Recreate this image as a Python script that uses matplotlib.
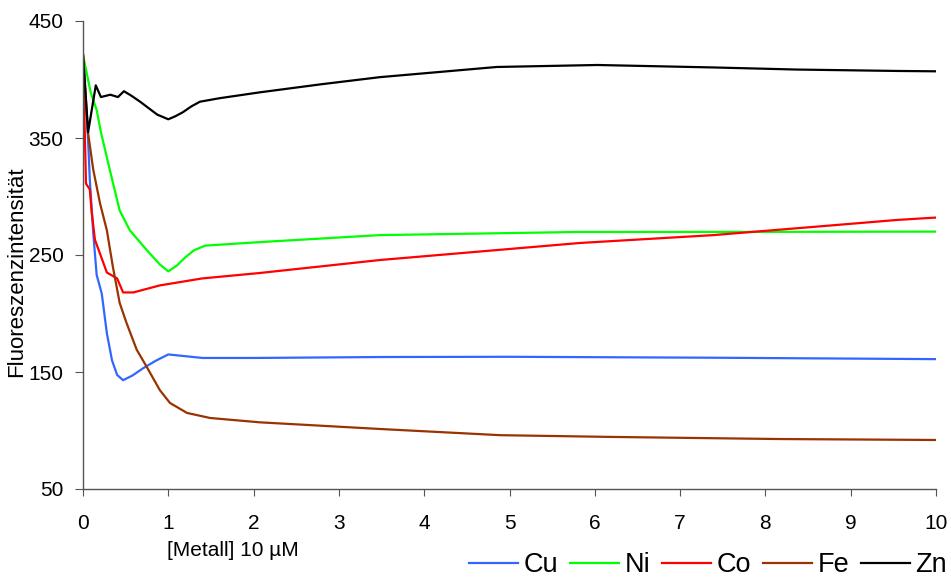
import matplotlib.pyplot as plt

plt.rcParams['font.family'] = ['Liberation Sans', 'DejaVu Sans']

cu_x = [0, 0.06, 0.08, 0.12, 0.16, 0.22, 0.28, 0.34, 0.40, 0.47, 0.58, 0.70, 0.85, 1.0, 1.2, 1.4, 2.0, 3.5, 5.0, 7.4, 10]
cu_y = [421, 348, 314, 269, 233, 217, 183, 160, 147.5, 143, 147, 153, 159.5, 165, 163.5, 162, 162, 162.8, 163, 162.2, 161]

ni_x = [0, 0.09, 0.16, 0.21, 0.32, 0.43, 0.55, 0.75, 0.9, 1.0, 1.1, 1.2, 1.3, 1.43, 2.07, 3.48, 5.83, 7.4, 10]
ni_y = [421, 389, 374, 355, 321, 288, 271, 254, 242, 236, 241, 248, 254, 258, 261, 267, 269.7, 269.7, 270]

co_x = [0, 0.035, 0.08, 0.10, 0.14, 0.28, 0.40, 0.47, 0.59, 0.9, 1.4, 2.07, 3.48, 5.83, 7.39, 8.56, 9.55, 10]
co_y = [421, 311, 306, 288, 263, 235, 230, 218, 218, 224, 230, 234.6, 245.7, 260.3, 267, 274, 280, 282]

fe_x = [0, 0.06, 0.12, 0.20, 0.28, 0.35, 0.43, 0.51, 0.63, 0.75, 0.9, 1.02, 1.22, 1.49, 2.07, 3.48, 4.89, 6.2, 8.17, 10]
fe_y = [421, 354, 323, 294, 271, 240, 209, 192, 169, 154, 134.6, 123.5, 115, 110.7, 107, 101.3, 96, 94.5, 92.7, 91.9]

zn_x = [0, 0.06, 0.15, 0.21, 0.32, 0.41, 0.48, 0.57, 0.67, 0.77, 0.87, 1.0, 1.08, 1.17, 1.27, 1.37, 1.6, 2.07, 2.8, 3.48, 4.85, 6.03, 7.39, 8.37, 9.55, 10]
zn_y = [421, 355, 395, 385, 387, 385, 390, 386, 381, 375.5, 370, 366, 368.5, 372, 377, 381, 384, 389, 396, 402, 410.7, 412.4, 410.3, 408.5, 407.3, 407]

labels = ['Cu', 'Ni', 'Co', 'Fe', 'Zn']
colors = ['#3366ff', '#00ff00', '#ff0000', '#993300', '#000000']
series = [(cu_x, cu_y), (ni_x, ni_y), (co_x, co_y), (fe_x, fe_y), (zn_x, zn_y)]

fig = plt.figure(figsize=(9.51, 5.77), dpi=100)
ax = fig.add_axes([83 / 951, 1 - 489 / 577, 853 / 951, 468 / 577])

for (xs, ys), lab, col in zip(series, labels, colors):
    ax.plot(xs, ys, color=col, lw=1.6, label=lab, solid_joinstyle='round')

ax.set_xlim(0, 10)
ax.set_ylim(50, 450)
ax.set_xticks(range(0, 11))
ax.set_yticks([50, 150, 250, 350, 450])

for s in ['top', 'right']:
    ax.spines[s].set_visible(False)
for s in ['left', 'bottom']:
    ax.spines[s].set_color('#555555')
    ax.spines[s].set_linewidth(1.0)

ax.tick_params(axis='x', direction='out', length=5, color='#555555', labelsize=15, pad=13)
ax.tick_params(axis='y', direction='out', length=6, color='#555555', labelsize=15, pad=8)

ax.set_ylabel('Fluoreszenzintensität', fontsize=16)
ax.yaxis.set_label_coords(-0.066, 0.464)
ax.text(0.176, -0.132, '[Metall] 10 µM', transform=ax.transAxes,
        ha='center', va='center', fontsize=15)

fig.legend(loc='center right', bbox_to_anchor=(0.996, 0.02), ncol=5, frameon=False,
           fontsize=19.5, handlelength=1.8, handletextpad=0.22, columnspacing=0.43,
           borderpad=0, borderaxespad=0)

fig.savefig('out.png', dpi=100)
